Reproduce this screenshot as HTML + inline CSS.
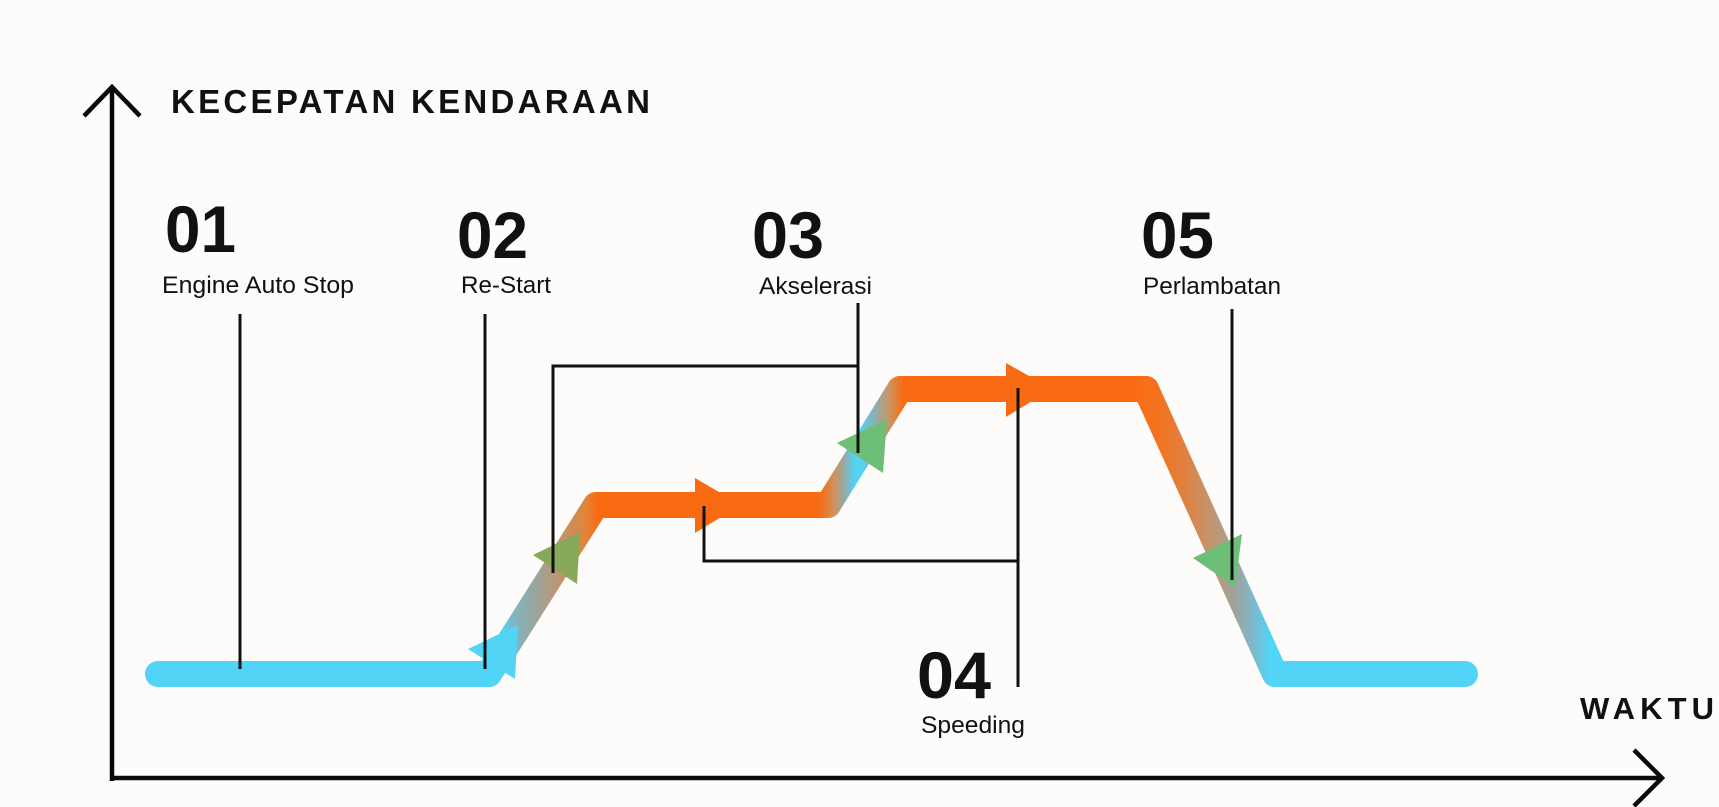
<!DOCTYPE html>
<html>
<head>
<meta charset="utf-8">
<style>
  html,body{margin:0;padding:0;background:#fdfcfa;}
  svg{display:block;}
  text{font-family:"Liberation Sans Narrow","Liberation Sans",sans-serif;fill:#111;}
  .num{font-weight:bold;font-size:66px;}
  .lbl{font-size:24px;}
  .ttl{font-weight:bold;font-size:33px;}
</style>
</head>
<body>
<svg width="1719" height="807" viewBox="0 0 1719 807" xmlns="http://www.w3.org/2000/svg">
  <defs>
    <linearGradient id="g1" gradientUnits="userSpaceOnUse" x1="476" y1="0" x2="609" y2="0">
      <stop offset="0" stop-color="#52d4f7"/>
      <stop offset="0.2" stop-color="#52d4f7"/>
      <stop offset="0.28" stop-color="#7fb6c4"/>
      <stop offset="0.44" stop-color="#98a69e"/>
      <stop offset="0.63" stop-color="#c09470"/>
      <stop offset="0.82" stop-color="#e0843a"/>
      <stop offset="0.92" stop-color="#f96b13"/>
      <stop offset="1" stop-color="#f96b13"/>
    </linearGradient>
    <linearGradient id="g2" gradientUnits="userSpaceOnUse" x1="815" y1="0" x2="913" y2="0">
      <stop offset="0" stop-color="#f96b13"/>
      <stop offset="0.07" stop-color="#f36f1c"/>
      <stop offset="0.2" stop-color="#cf9260"/>
      <stop offset="0.29" stop-color="#98a8a2"/>
      <stop offset="0.41" stop-color="#52d4f7"/>
      <stop offset="0.48" stop-color="#56d1f2"/>
      <stop offset="0.61" stop-color="#8daeb4"/>
      <stop offset="0.76" stop-color="#cc9460"/>
      <stop offset="0.9" stop-color="#f96b13"/>
      <stop offset="1" stop-color="#f96b13"/>
    </linearGradient>
    <linearGradient id="g3" gradientUnits="userSpaceOnUse" x1="1133" y1="0" x2="1288" y2="0">
      <stop offset="0" stop-color="#f96b13"/>
      <stop offset="0.17" stop-color="#f3731f"/>
      <stop offset="0.33" stop-color="#e08040"/>
      <stop offset="0.5" stop-color="#c4946c"/>
      <stop offset="0.66" stop-color="#9ea49c"/>
      <stop offset="0.79" stop-color="#78bcd0"/>
      <stop offset="0.88" stop-color="#52d4f7"/>
      <stop offset="1" stop-color="#52d4f7"/>
    </linearGradient>
  </defs>

  <rect width="1719" height="807" fill="#fdfcfa"/>

  <!-- Axes -->
  <g stroke="#0a0a0a" stroke-width="4.5" fill="none">
    <line x1="112" y1="87" x2="112" y2="781"/>
    <polyline points="84,116 112,87 140,116"/>
    <line x1="110" y1="778" x2="1662" y2="778"/>
    <polyline points="1634,750 1662,778 1634,806"/>
  </g>

  <!-- Axis titles -->
  <text class="ttl" x="171" y="113" textLength="479" lengthAdjust="spacing">KECEPATAN KENDARAAN</text>
  <text class="ttl" x="1580" y="719" style="font-size:31px" textLength="134" lengthAdjust="spacing">WAKTU</text>

  <!-- Speed line: flats -->
  <g stroke-width="26" stroke-linecap="round" fill="none">
    <line x1="158" y1="674" x2="489" y2="674" stroke="#52d4f7"/>
    <line x1="596" y1="505" x2="828" y2="505" stroke="#f96b13"/>
    <line x1="900" y1="389" x2="1146" y2="389" stroke="#f96b13"/>
    <line x1="1275" y1="674" x2="1465" y2="674" stroke="#52d4f7"/>
    <!-- diagonals -->
    <line x1="489" y1="674" x2="596" y2="505" stroke="url(#g1)"/>
    <line x1="828" y1="505" x2="900" y2="389" stroke="url(#g2)"/>
    <line x1="1146" y1="389" x2="1275" y2="674" stroke="url(#g3)"/>
  </g>

  <!-- Arrow heads -->
  <polygon points="468,649 518,625 515,679" fill="#52d4f7"/>
  <polygon points="533,555 580,532 577,584" fill="#86a95a"/>
  <polygon points="695,478 741,505 695,533" fill="#f96b13"/>
  <polygon points="837,443 887,419 883,473" fill="#6dbf78"/>
  <polygon points="1006,363 1052,389 1006,417" fill="#f96b13"/>
  <polygon points="1193,558 1242,534 1235,587" fill="#6dbf78"/>

  <!-- Callout lines -->
  <g stroke="#111" stroke-width="3" fill="none">
    <line x1="240" y1="314" x2="240" y2="669"/>
    <line x1="485" y1="314" x2="485" y2="669"/>
    <polyline points="553,573 553,366 858,366"/>
    <line x1="858" y1="303" x2="858" y2="453"/>
    <polyline points="704,506 704,561 1018,561"/>
    <line x1="1018" y1="388" x2="1018" y2="687"/>
    <line x1="1232" y1="309" x2="1232" y2="580"/>
  </g>

  <!-- Step numbers -->
  <text class="num" x="165" y="252" textLength="71" lengthAdjust="spacingAndGlyphs">01</text>
  <text class="num" x="457" y="258" textLength="71" lengthAdjust="spacingAndGlyphs">02</text>
  <text class="num" x="752" y="258" textLength="72" lengthAdjust="spacingAndGlyphs">03</text>
  <text class="num" x="917" y="698" textLength="74" lengthAdjust="spacingAndGlyphs">04</text>
  <text class="num" x="1141" y="258" textLength="73" lengthAdjust="spacingAndGlyphs">05</text>

  <!-- Step labels -->
  <text class="lbl" x="162" y="293" textLength="192" lengthAdjust="spacingAndGlyphs">Engine Auto Stop</text>
  <text class="lbl" x="461" y="293" textLength="90" lengthAdjust="spacingAndGlyphs">Re-Start</text>
  <text class="lbl" x="759" y="294" textLength="113" lengthAdjust="spacingAndGlyphs">Akselerasi</text>
  <text class="lbl" x="921" y="733" textLength="104" lengthAdjust="spacingAndGlyphs">Speeding</text>
  <text class="lbl" x="1143" y="294" textLength="138" lengthAdjust="spacingAndGlyphs">Perlambatan</text>
</svg>
</body>
</html>
